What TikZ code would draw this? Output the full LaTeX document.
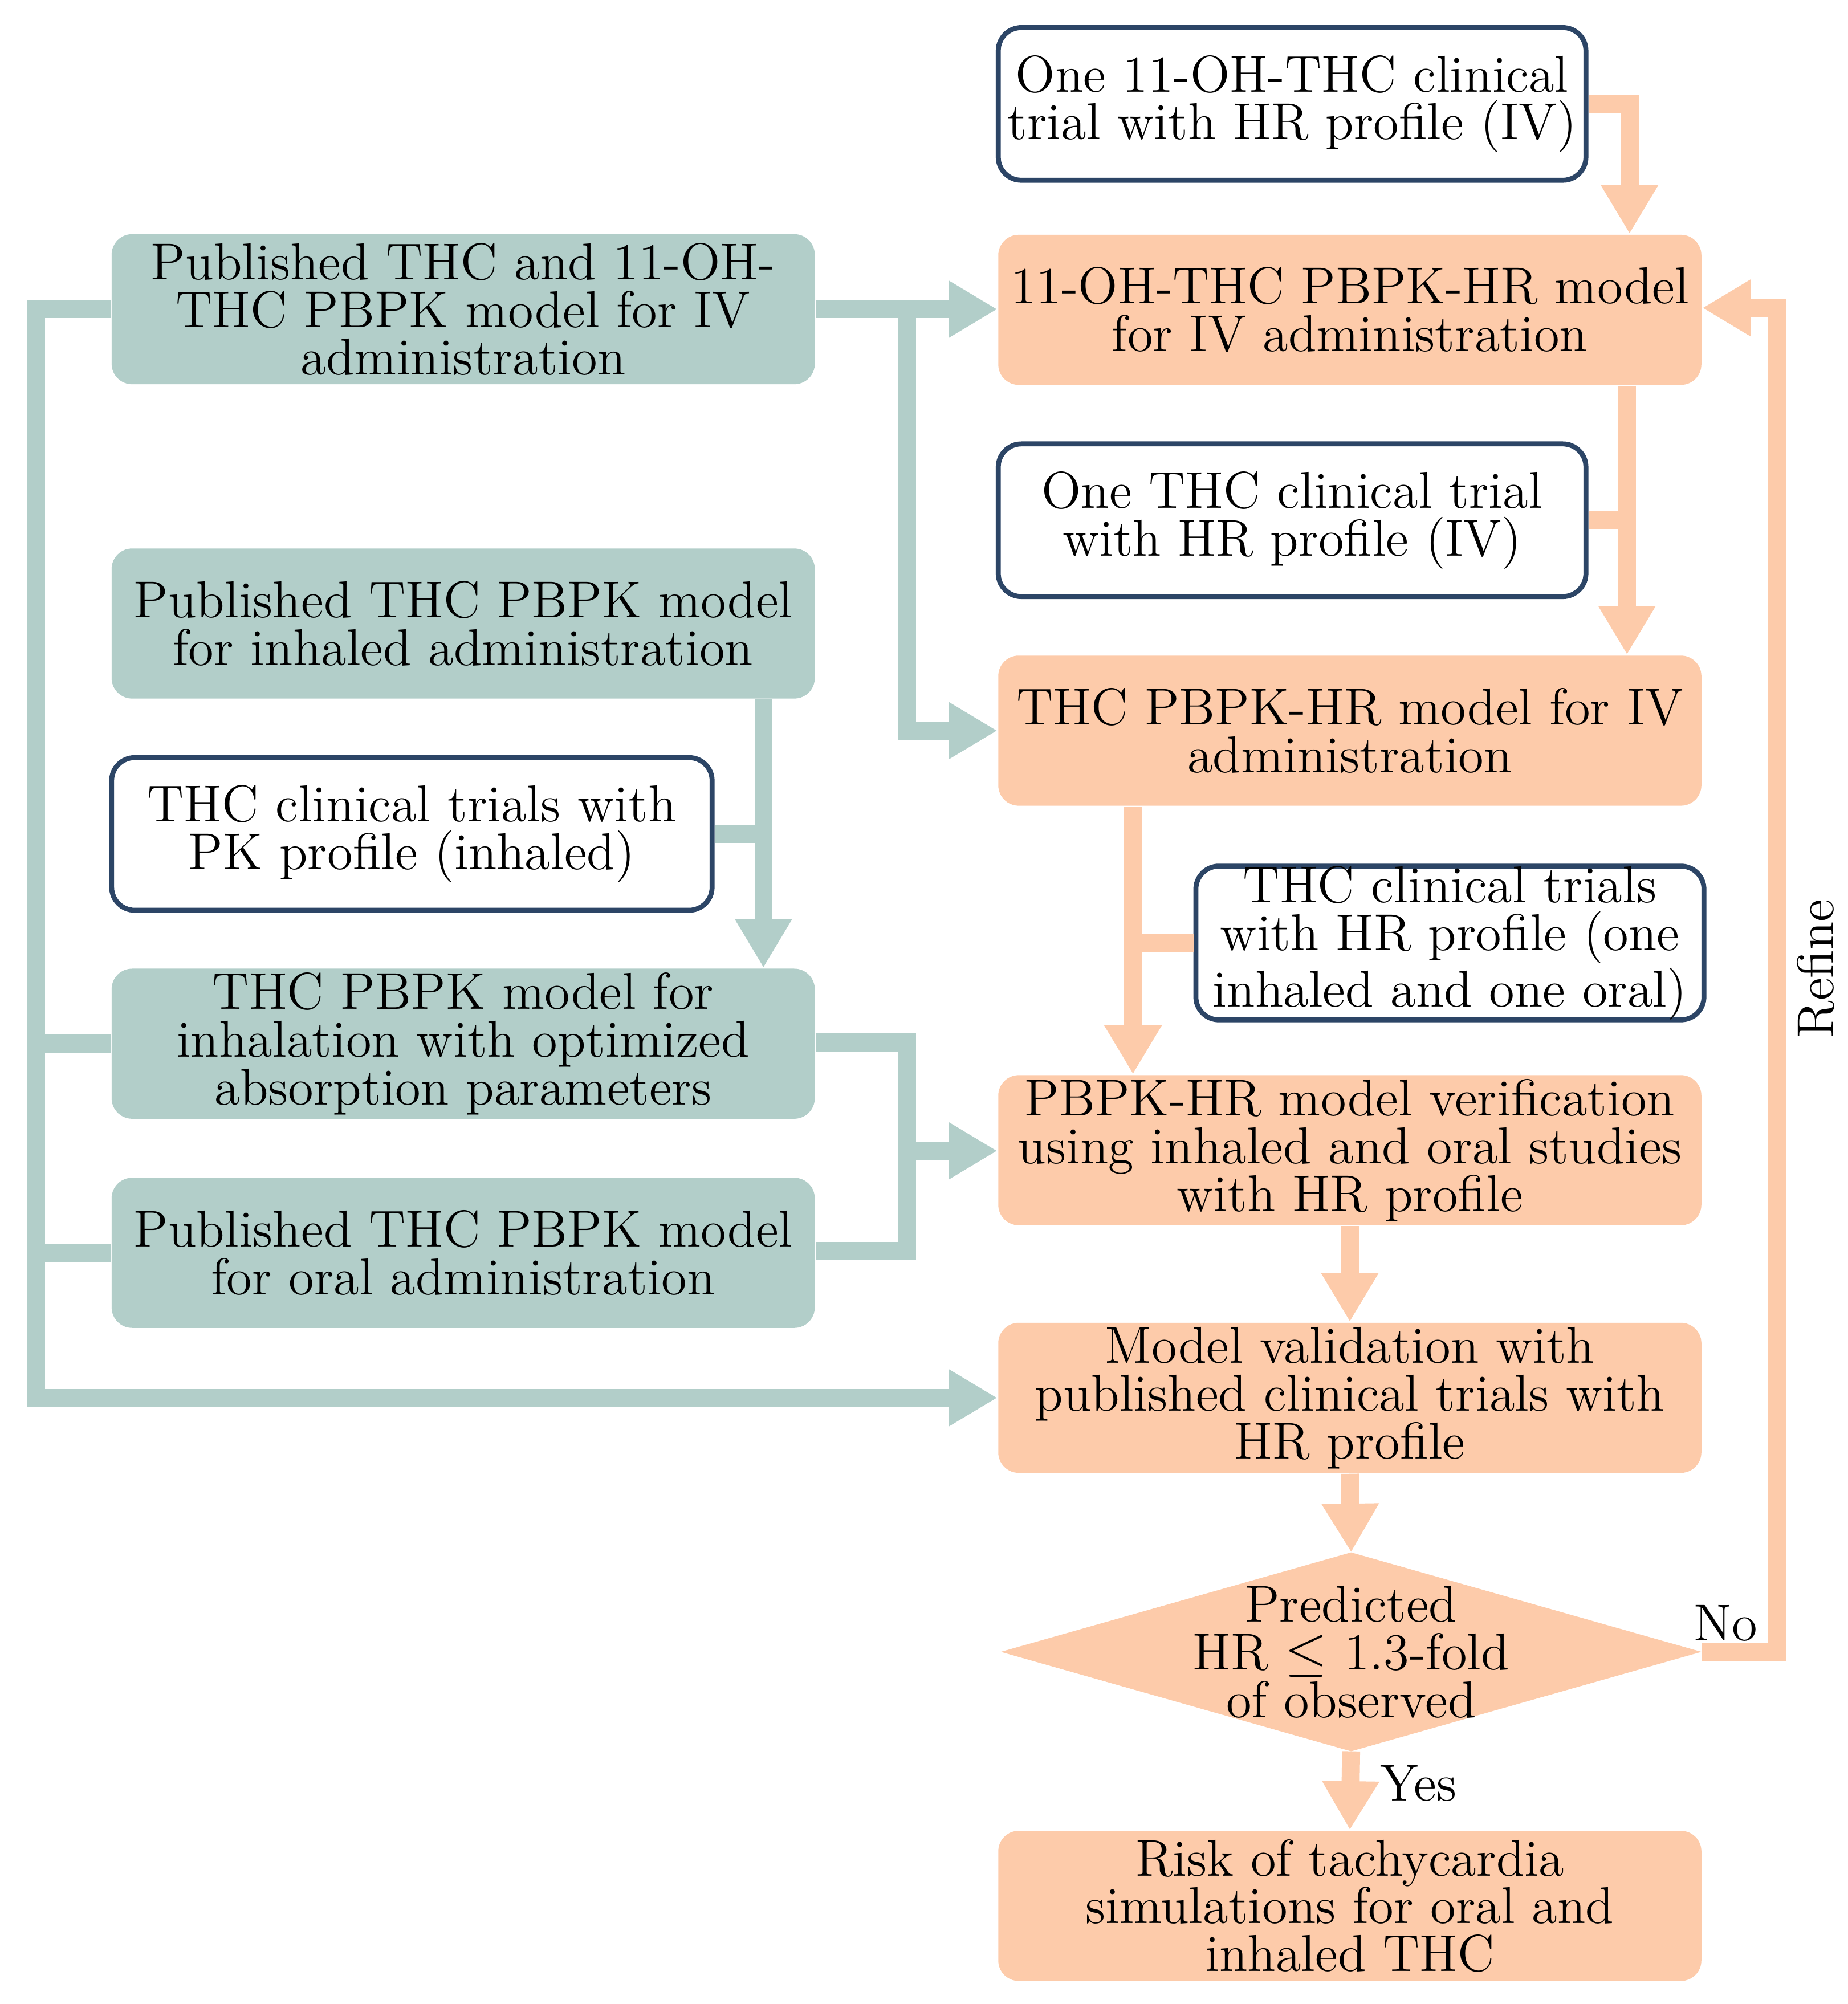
\documentclass[tikz,border=0pt]{standalone}
\usetikzlibrary{arrows.meta,calc}
\definecolor{org}{HTML}{FDCBAA}
\definecolor{tea}{HTML}{B2CEC9}
\definecolor{nav}{HTML}{2C4566}
\begin{document}
\begin{tikzpicture}[
  every node/.style={font=\fontsize{11.5}{10.6}\selectfont, align=center, inner sep=0pt},
  obox/.style={fill=org, rounded corners=0.16cm, minimum width=5.48cm, minimum height=1.17cm},
  tbox/.style={fill=tea, rounded corners=0.16cm, minimum width=5.48cm, minimum height=1.17cm},
  wbox/.style={fill=white, draw=nav, line width=1.1pt, rounded corners=0.18cm, minimum height=1.19cm},
  ol/.style={draw=org, line width=4pt},
  tl/.style={draw=tea, line width=4pt},
  oa/.style={ol, -{Triangle[width=0.42cm,length=0.38cm]}},
  ta/.style={tl, -{Triangle[width=0.42cm,length=0.38cm]}}
]
\useasboundingbox (0,0) rectangle (14.40,-15.62);
% right column
\node[wbox, minimum width=4.58cm] (R0) at (10.07,-0.81) {One 11-OH-THC clinical\\trial with HR profile (IV)};
\node[obox] (R1) at (10.52,-2.415) {11-OH-THC PBPK-HR model\\for IV administration};
\node[wbox, minimum width=4.58cm] (R2) at (10.07,-4.055) {One THC clinical trial\\with HR profile (IV)};
\node[obox] (R3) at (10.52,-5.695) {THC PBPK-HR model for IV\\administration};
\node[wbox, minimum width=3.96cm] (R4) at (11.30,-7.35) {THC clinical trials\\with HR profile (one\\inhaled and one oral)};
\node[obox] (R5) at (10.52,-8.965) {PBPK-HR model verification\\using inhaled and oral studies\\with HR profile};
\node[obox] (R6) at (10.52,-10.895) {Model validation with\\published clinical trials with\\HR profile};
\fill[org] (7.80,-12.875) -- (10.53,-12.10) -- (13.26,-12.875) -- (10.53,-13.65) -- cycle;
\node (D) at (10.53,-12.875) {Predicted\\HR $\leq$ 1.3-fold\\of observed};
\coordinate (DT) at (10.53,-12.10);
\coordinate (DB) at (10.53,-13.65);
\coordinate (DR) at (13.26,-12.875);
\node[obox] (R7) at (10.52,-14.855) {Risk of tachycardia\\simulations for oral and\\inhaled THC};
% left column
\node[tbox] (L1) at (3.61,-2.41) {Published THC and 11-OH-\\THC PBPK model for IV\\administration};
\node[tbox] (L2) at (3.61,-4.86) {Published THC PBPK model\\for inhaled administration};
\node[wbox, minimum width=4.68cm] (L3) at (3.21,-6.50) {THC clinical trials with\\PK profile (inhaled)};
\node[tbox] (L4) at (3.61,-8.135) {THC PBPK model for\\inhalation with optimized\\absorption parameters};
\node[tbox] (L5) at (3.61,-9.765) {Published THC PBPK model\\for oral administration};
% orange connectors
\draw[oa] (R0.east) -| ([xshift=2.18cm]R1.north);
\draw[oa] ([xshift=2.16cm]R1.south) -- ([xshift=2.16cm]R3.north);
\draw[ol] (R2.east) -- ++(0.32,0);
\draw[oa] ([xshift=-1.69cm]R3.south) -- ([xshift=-1.69cm]R5.north);
\draw[ol] (R4.west) -- ++(-0.51,0);
\draw[oa] (R5.south) -- (R6.north);
\draw[oa] (R6.south) -- (DT);
\draw[oa] (DB) -- (R7.north);
\draw[oa] (DR) -- (13.85,-12.875) -- (13.85,-2.40) -- (R1.east|-0,-2.40);
\node[anchor=south] (no) at (13.45,-12.80) {No};
\node[anchor=west] (yes) at (10.75,-13.90) {Yes};
\node[rotate=90] (ref) at (14.15,-7.55) {Refine};
% teal connectors
\draw[ta] (L1.east) -- (R1.west|-L1.east);
\draw[ta] (7.07,-2.41) |- (R3.west);
\draw[ta] ([xshift=2.34cm]L2.south) -- ([xshift=2.34cm]L4.north);
\draw[tl] (L3.east) -- ++(0.40,0);
\draw[tl] ([yshift=0.01cm]L4.east) -| (7.07,-9.75) -- (L5.east|-0,-9.75);
\draw[ta] (7.07,-8.97) -- (R5.west|-0,-8.97);
\draw[ta] (L1.west) -- (0.28,-2.41) |- (R6.west);
\draw[tl] (L4.west) -- (0.28,-8.135);
\draw[tl] (L5.west) -- (0.28,-9.765);
\end{tikzpicture}
\end{document}
